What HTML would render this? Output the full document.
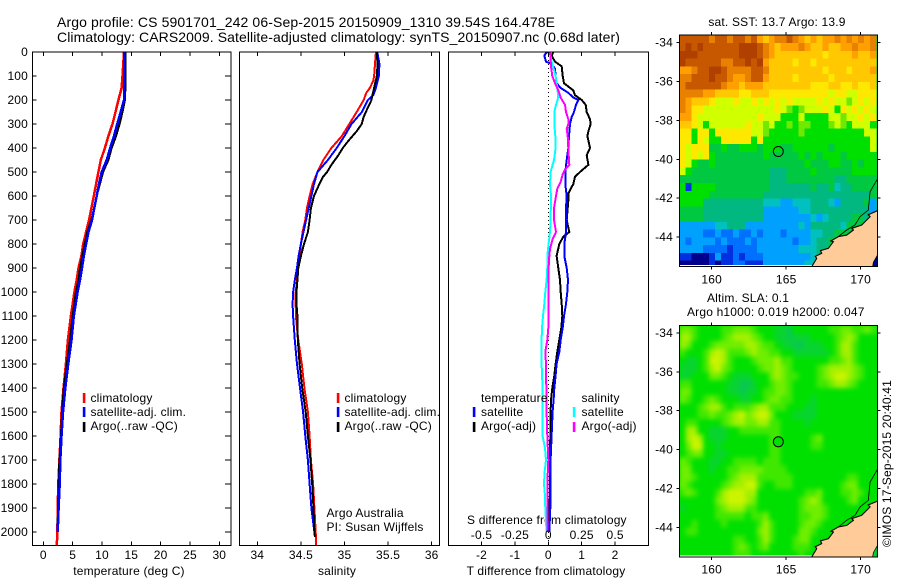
<!DOCTYPE html>
<html>
<head>
<meta charset="utf-8">
<title>Argo profile</title>
<style>
html,body{margin:0;padding:0;background:#fff}
svg{display:block}
text{font-family:"Liberation Sans",sans-serif;font-size:12px;fill:#000;letter-spacing:.18px}
</style>
</head>
<body>
<svg id="fig" width="900" height="580" viewBox="0 0 900 580">
<text x="57" y="27" style="font-size:14px;letter-spacing:.11px">Argo profile: CS 5901701_242 06-Sep-2015 20150909_1310 39.54S 164.478E</text>
<text x="57" y="42" style="font-size:14px;letter-spacing:.085px">Climatology: CARS2009. Satellite-adjusted climatology: synTS_20150907.nc (0.68d later)</text>
<text x="129" y="575" text-anchor="middle">temperature (deg C)</text>
<text x="337" y="575" text-anchor="middle">salinity</text>
<text x="546" y="575" text-anchor="middle">T difference from climatology</text>
<text x="467" y="524">S difference from climatology</text>
<text x="777" y="26" text-anchor="middle">sat. SST: 13.7 Argo: 13.9</text>
<text x="707" y="302">Altim. SLA: 0.1</text>
<text x="687" y="316">Argo h1000: 0.019 h2000: 0.047</text>
<text transform="translate(891,547) rotate(-90)">©IMOS 17-Sep-2015 20:40:41</text>
<defs>
<filter id="sla-smooth" x="-5%" y="-5%" width="110%" height="110%" color-interpolation-filters="sRGB"><feGaussianBlur stdDeviation="2.4"/></filter>
<clipPath id="sst-clip"><rect x="679.5" y="35" width="198" height="230"/></clipPath>
<clipPath id="sla-clip"><rect x="679.5" y="325.5" width="198" height="230"/></clipPath>
</defs>
<g id="layer"></g>
<g>
<rect x="82.8" y="393" width="2.6" height="10" fill="#f00"/>
<rect x="82.8" y="407" width="2.6" height="10" fill="#00f"/>
<rect x="82.8" y="422" width="2.6" height="10" fill="#000"/>
<text x="90.5" y="402">climatology</text>
<text x="90.5" y="416">satellite-adj. clim.</text>
<text x="90.5" y="430">Argo(..raw -QC)</text>
</g>
<g>
<rect x="336.8" y="393" width="2.6" height="10" fill="#f00"/>
<rect x="336.8" y="407" width="2.6" height="10" fill="#00f"/>
<rect x="336.8" y="422" width="2.6" height="10" fill="#000"/>
<text x="344.5" y="402">climatology</text>
<text x="344.5" y="416">satellite-adj. clim.</text>
<text x="344.5" y="430">Argo(..raw -QC)</text>
<text x="326.5" y="517">Argo Australia</text>
<text x="326.5" y="531">PI: Susan Wijffels</text>
</g>
<g>
<text x="481" y="402">temperature</text>
<rect x="472.8" y="407" width="2.6" height="10" fill="#00f"/>
<rect x="472.8" y="422" width="2.6" height="10" fill="#000"/>
<text x="481" y="416">satellite</text>
<text x="481" y="430">Argo(-adj)</text>
<text x="581.5" y="402">salinity</text>
<rect x="572.8" y="407" width="2.6" height="10" fill="#0ff"/>
<rect x="572.8" y="422" width="2.6" height="10" fill="#f0f"/>
<text x="581.5" y="416">satellite</text>
<text x="581.5" y="430">Argo(-adj)</text>
</g>
</svg>
<script>
// ---- profile data ----
const tempDepths=[0,100,150,200,250,300,350,400,450,500,550,600,650,700,750,800,850,900,950,1000,1100,1200,1300,1400,1500,1600,1700,1800,1900,2000];
const tempClim=[13.75,13.5,13.35,12.8,12.3,11.8,11.1,10.5,9.8,9.4,9.0,8.6,8.2,7.8,7.3,6.8,6.5,6.0,5.7,5.3,4.7,4.2,3.85,3.45,3.1,2.95,2.75,2.55,2.45,2.4];
const tempClimEndDepth=2054;
const tempClimEndValue=2.3;
const tempSat=[13.8,13.8,13.8,13.75,13.2,12.6,12.05,11.4,10.8,9.95,9.5,9.1,8.7,8.3,7.7,7.3,6.9,6.6,6.25,5.85,5.2,4.8,4.25,3.75,3.35,3.1,2.9,2.8,2.6,2.45];
const tempArgo=[14,14,14,13.9,13.5,13,12.4,11.65,11.1,10.2,9.65,9.1,8.65,8.2,7.5,7.05,6.65,6.25,6,5.55,5,4.55,4,3.5,3.2,3,2.75,2.6,2.5,2.4];

const salClimDepths=[0,50,100,120,150,170,200,250,300,350,400,450,500,550,600,650,700,750,800,850,900,950,1000,1050,1100,1150,1200,1250,1300,1400,1500,1600,1700,1800,1900,2000,2054];
const salClim=[35.36,35.35,35.34,35.33,35.29,35.25,35.22,35.14,35.055,34.97,34.85,34.757,34.69,34.635,34.60,34.57,34.55,34.52,34.50,34.485,34.47,34.455,34.44,34.44,34.443,34.455,34.47,34.49,34.51,34.54,34.58,34.6,34.615,34.64,34.655,34.67,34.675];
const salSatDepths=[0,50,100,150,180,200,250,300,350,400,450,500,550,600,650,700,750,800,850,900,950,1000,1050,1100,1200,1300,1400,1500,1600,1700,1800,1900,2000,2020];
const salSat=[35.376,35.40,35.395,35.36,35.33,35.27,35.2,35.08,35.0,34.91,34.81,34.69,34.65,34.62,34.59,34.56,34.53,34.50,34.474,34.455,34.43,34.41,34.405,34.41,34.43,34.455,34.49,34.525,34.55,34.58,34.6,34.62,34.655,34.66];
const salArgoDepths=[0,50,100,150,180,200,230,270,300,330,370,400,430,470,500,520,560,600,650,700,750,800,850,900,1000,1050,1100,1200,1300,1400,1500,1600,1700,1800,1900,2000,2020];
const salArgo=[35.37,35.38,35.37,35.34,35.32,35.31,35.27,35.22,35.197,35.14,35.045,34.98,34.93,34.85,34.80,34.755,34.70,34.65,34.615,34.6,34.58,34.535,34.5,34.47,34.45,34.45,34.46,34.465,34.485,34.515,34.555,34.58,34.61,34.63,34.645,34.655,34.66];

const diffTSatDepths=[0,5,15,40,50,70,100,130,150,170,190,200,220,250,270,300,350,400,450,500,550,600,650,700,750,800,850,900,950,1000,1050,1100,1150,1200,1250,1300,1350,1400,1450,1500,1600,1700,1800,1900,2000];
const diffTSat=[-0.03,-0.07,-0.12,-0.07,0.10,0.20,0.22,0.25,0.37,0.60,0.75,0.90,0.83,0.77,0.70,0.65,0.62,0.60,0.55,0.51,0.51,0.55,0.53,0.53,0.53,0.48,0.48,0.55,0.59,0.57,0.53,0.47,0.43,0.37,0.33,0.25,0.22,0.18,0.16,0.13,0.10,0.07,0.06,0.06,0.03];
const diffTArgoDepths=[0,15,40,60,100,130,160,180,200,220,250,280,300,330,350,400,430,470,500,520,550,590,620,700,750,770,800,850,900,950,1000,1050,1100,1150,1200,1250,1300,1350,1400,1450,1500,1600,1700,1800,1900,2000];
const diffTArgo=[.15,.10,.20,.40,.43,.47,.75,.80,1.0,1.12,1.15,1.25,1.27,1.20,1.17,1.25,1.15,1.20,.95,.80,.75,.60,.60,.55,.63,.45,.33,.25,.30,.35,.37,.40,.42,.39,.33,.27,.22,.18,.12,.08,.07,.06,.05,.05,.04,.03];
const diffSSatDepths=[0,40,80,100,150,190,220,250,300,350,400,450,500,550,600,700,750,800,850,900,950,1000,1050,1100,1150,1200,1300,1400,1500,1600,1650,1700,1750,1800,1850,1900,2000];
const diffSSat=[.0125,.025,.045,.055,.0675,.075,.0575,.045,.045,.0525,.055,.0425,.0175,.0125,.02,.0175,.0125,.0025,-.0075,-.0075,-.0125,-.0225,-.03,-.04,-.0475,-.05,-.05,-.0425,-.0425,-.0425,-.025,-.0175,-.0275,-.0325,-.025,-.0225,-.0125];
const diffSArgoDepths=[0,30,60,100,130,160,190,220,250,280,300,320,350,400,450,470,490,510,540,570,600,650,700,750,780,820,850,900,1000,1100,1150,1200,1250,1300,1400,1500,1600,1700,1800,1900,2000];
const diffSArgo=[.0125,.0175,.02,.03,.05,.075,.0925,.125,.1325,.15,.15,.1375,.145,.15,.155,.1575,.125,.1075,.0925,.0675,.0575,.0425,.0425,.0575,.0325,.0125,.0075,.0025,0,0,0,-.0075,-.0225,-.0175,-.015,-.0125,-.0075,0,-.0075,-.0075,-.005];

// ---- tick labels ----
const depthTicks=[0,100,200,300,400,500,600,700,800,900,1000,1100,1200,1300,1400,1500,1600,1700,1800,1900,2000];
const tempTicks=[0,5,10,15,20,25,30];
const salTicks=[34,34.5,35,35.5,36];
const diffTTicks=[-2,-1,0,1,2];
const diffSTicks=[-0.5,-0.25,0,0.25,0.5];
const lonTicks=[160,165,170];
const latTicks=[-34,-36,-38,-40,-42,-44];

// ---- map data (one character per 0.4 x 0.4 degree cell, north to south) ----
const sstPalette=["#00008c","#0030e0","#0070ff","#00a0ff","#00c0c0","#00b880","#00c840","#00e000","#70e800","#d0ff00","#ffe800","#ffc800","#ffa000","#e88000","#c85800","#b04000"];
const slaPalette=["#08c850","#08d430","#00e000","#40e800","#70ee00","#a4f000","#ccf400"];
const sstRows=[
"eeeeedeedee decbcddedcb cbccdcdcdcd",
"efefeeeeeef ffedcbcccdc bbcbbccdccd",
"fffeeeeeeef ffedcbbbbbb bbabbbbcbbc",
"feeeeeeddee fefcbbbbabb abbbbbbbbbb",
"ccdeeffeddd deedbbbbbbb bbabbbabbbc",
"ddeeefeedcc deecbbbbabb bbbabbbbbbb",
"deeeeeedccb cccbbbbbbbb aaabbaabaab",
"ddddccbbbba abbbaaaaaaa aaa9aa99aaa",
"dcbbba999a9 9a9a9a9a999 9a9a9989a9a",
"dcaa9999999 99999a98789 99a97a9a9a9",
"cca99999999 99a99977797 77799899a9a",
"bba97999999 a9989778788 77789879997",
"aa7aa7aaaaa a9987777787 77777777799",
"aa7a977aaaa a7a77777777 77777777779",
"a9aaa667667 77677766777 77767777779",
"a9a9a766666 66676666676 76777677777",
"a9766766666 66666666667 66677667677",
"97666666666 66665556666 76666667777",
"66666666666 66665556666 66665566666",
"71777766666 66665555555 65564556666",
"77777666666 66655555555 55555555556",
"77775555555 55544433444 55543555563",
"66665555555 55533333344 55555555553",
"66665555555 55533333333 43455556654",
"33333344555 33333333343 55555466666",
"33332232232 23233323333 44556666666",
"32333323222 32333333233 45566666666",
"33332222122 22333333344 45566666666",
"11000131121 22233333333 45566666666",
"00000101122 11133333334 45566666666"
];
const slaRows=[
"44322223344 43222110222 22233443343",
"55322223455 54322110111 22223454222",
"54222344444 55433211001 11223553222",
"32223565333 45443322111 11123553222",
"21123665322 23444533222 22233453222",
"11123564322 22344543222 23455554322",
"11222443211 12224543322 23456654322",
"33222222110 01223443222 23345543222",
"44222222110 11233443222 22222222222",
"43223432221 12234433222 12222222222",
"22234553233 34553332221 12222222222",
"22233433456 45664222111 12222222222",
"23322223455 44553322221 22222222222",
"25522111223 33333322222 22222222222",
"25652111222 22223322222 34222222222",
"24662212222 22223322222 33222222222",
"23442211222 22223322222 22222222222",
"43222112233 33233322222 22222222222",
"44222122334 44433332222 22222222222",
"44322222345 55333333222 22222233222",
"43222223455 66322333222 22222344222",
"34322235666 55222222223 34222334322",
"22222245666 54222222234 54222234222",
"12222234555 33222222234 44322222222",
"22222233333 23342222233 44322222222",
"22322223222 22353222234 43222222222",
"23322222222 22453222244 32222222222",
"22222222233 22353222344 22222222222",
"22222222234 32342222333 22222222222",
"22222222233 32222222232 22222222222"
];
const coastLon=[166.71,167.05,166.95,167.38,167.3,167.83,168.17,168.0,168.5,169.06,169.51,169.4,170.07,170.63,170.5,171.12];
const coastLat=[-45.53,-45.1,-45.0,-44.84,-44.7,-44.58,-44.24,-44.2,-43.98,-43.9,-43.64,-43.55,-43.38,-42.95,-42.85,-42.65];
const contourLon=[168.5,169.06,169.62,169.96,170.51,170.63,171.12];
const contourLat=[-43.98,-43.64,-43.38,-42.95,-42.61,-41.67,-41.02];
const floatLon=164.47;
const floatLat=-39.6;

// ---- scales ----
const SVGNS="http://www.w3.org/2000/svg";
const layer=document.getElementById('layer');
function depthY(d){return 52+0.24*d;}
function tempX(t){return 43.3+5.867*t;}
function salX(s){return 257.3+87.2*(s-34);}
function diffTX(t){return 548.3+33.4*t;}
function diffSX(s){return 548.3+33.4*4*s;}
function lonX(lon){return 711.7+14.9*(lon-160);}
function latOffset(lat){return 19.43*(-34-lat);}

function add(tag,attrs,name,parent){
  const el=document.createElementNS(SVGNS,tag);
  for(const k in attrs){el.setAttribute(k,attrs[k]);}
  
  
  (parent||layer).appendChild(el);
  return el;
}
function label(str,x,y,anchor,name,parent){
  const el=add('text',{x:x,y:y,'text-anchor':anchor},name,parent);
  el.textContent=str;
  return el;
}
function frame(x0,y0,x1,y1,name){
  return add('rect',{x:x0,y:y0,width:x1-x0,height:y1-y0,fill:'none',stroke:'#000','stroke-width':1.2,'shape-rendering':'crispEdges'},name);
}
function tick(x1,y1,x2,y2,name,parent){
  return add('line',{x1:x1,y1:y1,x2:x2,y2:y2,stroke:'#000','stroke-width':1,'shape-rendering':'crispEdges'},name,parent);
}
function profile(depths,vals,xf,color,width,name,parent){
  const pts=depths.map((d,i)=>xf(vals[i]).toFixed(1)+','+depthY(d).toFixed(1)).join(' ');
  return add('polyline',{points:pts,fill:'none',stroke:color,'stroke-width':width,'shape-rendering':'crispEdges'},name,parent);
}

// ---- panel geometry ----
const top0=52, bot0=545.5;

// Temperature panel
{
  const g=add('g',{},'temperature-panel');
  const L=32.5,R=231;
  profile(tempDepths.concat([tempClimEndDepth]),tempClim.concat([tempClimEndValue]),tempX,'#f00',2.5,'temperature-climatology-line',g);
  profile(tempDepths,tempArgo,tempX,'#000',2,'temperature-argo-line',g);
  profile(tempDepths,tempSat,tempX,'#00f',2.5,'temperature-satellite-line',g);
  depthTicks.forEach(d=>{
    tick(L,depthY(d),L+4,depthY(d),'depth-tick-left',g);
    tick(R,depthY(d),R-6,depthY(d),'depth-tick-right',g);
    label(String(d),28,depthY(d)+4,'end','depth-tick-label',g);
  });
  tempTicks.forEach(t=>{
    tick(tempX(t),top0,tempX(t),top0+4,'temperature-tick-top',g);
    tick(tempX(t),bot0,tempX(t),bot0-4,'temperature-tick-bottom',g);
    label(String(t),tempX(t),559,'middle','temperature-tick-label',g);
  });
  const fr=frame(L,top0,R,bot0,'temperature-panel-frame');
  g.appendChild(fr);
}
// Salinity panel
{
  const g=add('g',{},'salinity-panel');
  const L=239.5,R=439.5;
  profile(salClimDepths,salClim,salX,'#f00',2,'salinity-climatology-line',g);
  profile(salSatDepths,salSat,salX,'#00f',2,'salinity-satellite-line',g);
  profile(salArgoDepths,salArgo,salX,'#000',2,'salinity-argo-line',g);
  salTicks.forEach(s=>{
    tick(salX(s),top0,salX(s),top0+4,'salinity-tick-top',g);
    tick(salX(s),bot0,salX(s),bot0-4,'salinity-tick-bottom',g);
    label(String(s),salX(s),559,'middle','salinity-tick-label',g);
  });
  g.appendChild(frame(L,top0,R,bot0,'salinity-panel-frame'));
}
// Difference panel
{
  const g=add('g',{},'difference-panel');
  const L=448.5,R=648.5;
  add('line',{x1:diffTX(0),y1:top0,x2:diffTX(0),y2:bot0,stroke:'#000','stroke-width':1,'stroke-dasharray':'1 3','shape-rendering':'crispEdges'},'zero-difference-line',g);
  profile(diffTArgoDepths,diffTArgo,diffTX,'#000',2,'t-difference-argo-line',g);
  profile(diffTSatDepths,diffTSat,diffTX,'#00f',2,'t-difference-satellite-line',g);
  profile(diffSSatDepths,diffSSat,diffSX,'#0ff',2,'s-difference-satellite-line',g);
  profile(diffSArgoDepths,diffSArgo,diffSX,'#f0f',2,'s-difference-argo-line',g);
  diffTTicks.forEach(t=>{
    tick(diffTX(t),top0,diffTX(t),top0+4,'t-difference-tick-top',g);
    tick(diffTX(t),bot0,diffTX(t),bot0-4,'t-difference-tick-bottom',g);
    label(String(t),diffTX(t),559,'middle','t-difference-tick-label',g);
  });
  diffSTicks.forEach(s=>{
    label(String(s),diffSX(s),539,'middle','s-difference-tick-label',g);
  });
  g.appendChild(frame(L,top0,R,bot0,'difference-panel-frame'));
}

// Maps
function drawMap(name,topY,lat0Y,rows,palette,waterColor,labelY,smooth,baseColor,markerFill){
  const g=add('g',{},name+'-map');
  const L=679.5,R=877.5,B=topY+231.5;
  const latY=lat=>lat0Y+latOffset(lat);
  const lonStep=0.4, latStep=0.4;
  const clip=add('g',{'clip-path':'url(#'+name+'-clip)'},name+'-heatmap',g);
  add('rect',{x:L,y:topY,width:R-L,height:230,fill:baseColor},name+'-heatmap-base',clip);
  const cells=add('g',smooth?{filter:'url(#sla-smooth)'}:{},name+'-cells',clip);
  rows.forEach((row,r)=>{
    const chars=row.replace(/ /g,'').split('');
    chars.forEach((ch,c)=>{
      const lonW=157.83+c*lonStep;
      const latN=-33.62-r*latStep;
      const x=lonX(lonW), y=latY(latN);
      const cell=document.createElementNS(SVGNS,'rect');
      cell.setAttribute('x',x.toFixed(2));
      cell.setAttribute('y',y.toFixed(2));
      cell.setAttribute('width',(lonX(lonW+lonStep)-x+0.3).toFixed(2));
      cell.setAttribute('height',(latY(latN-latStep)-y+0.3).toFixed(2));
      cell.setAttribute('fill',palette[parseInt(ch,16)]);
      cell.setAttribute('shape-rendering','crispEdges');
      
      
      cells.appendChild(cell);
    });
  });
  const coastPts=coastLon.map((lon,i)=>lonX(lon).toFixed(1)+','+latY(coastLat[i]).toFixed(1));
  const landPts=coastPts.concat([R+','+latY(coastLat[coastLat.length-1]).toFixed(1),R+','+B,lonX(coastLon[0]).toFixed(1)+','+B]);
  add('polygon',{points:landPts.join(' '),fill:'#ffcc99',stroke:'none'},name+'-land',g);
  add('polygon',{points:[lonX(171.11)+','+latY(-44.95),lonX(170.85)+','+latY(-45.3),lonX(170.8)+','+B,lonX(171.11)+','+B].join(' '),fill:waterColor,stroke:'#000','stroke-width':0.7},name+'-southeast-water',g);
  add('polyline',{points:coastPts.join(' '),fill:'none',stroke:'#000','stroke-width':1.1},name+'-coastline',g);
  const contourPts=contourLon.map((lon,i)=>lonX(lon).toFixed(1)+','+latY(contourLat[i]).toFixed(1));
  add('polyline',{points:contourPts.join(' '),fill:'none',stroke:'#000','stroke-width':0.8},name+'-shelf-contour',g);
  add('circle',{cx:lonX(floatLon),cy:latY(floatLat),r:5,fill:markerFill,stroke:'#000','stroke-width':1},name+'-argo-float-marker',g);
  lonTicks.forEach(lon=>{
    tick(lonX(lon),topY,lonX(lon),topY-3,name+'-lon-tick-top',g);
    tick(lonX(lon),B,lonX(lon),B+3,name+'-lon-tick-bottom',g);
    label(String(lon),lonX(lon),labelY,'middle',name+'-lon-label',g);
  });
  latTicks.forEach(lat=>{
    tick(L,latY(lat),L-3,latY(lat),name+'-lat-tick-left',g);
    tick(R,latY(lat),R+3,latY(lat),name+'-lat-tick-right',g);
    label(String(lat),673,latY(lat)+4,'end',name+'-lat-label',g);
  });
  g.appendChild(frame(L,topY,R,B,name+'-map-frame'));
}
drawMap('sst',35,42.7,sstRows,sstPalette,'#00008c',283.5,false,'#00c840','none');
drawMap('sla',325.5,333,slaRows,slaPalette,'#00d030',573.5,true,'#00e000','#00e000');
</script>
</body>
</html>
